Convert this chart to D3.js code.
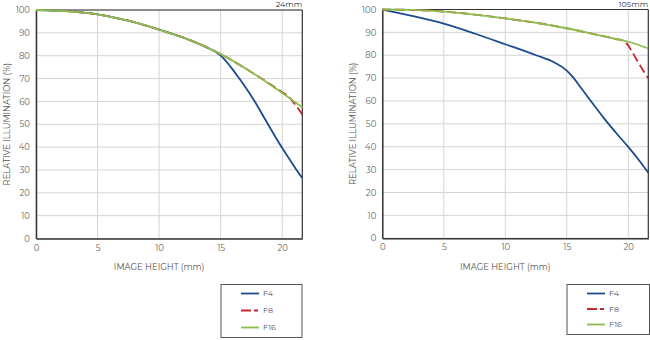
<!DOCTYPE html>
<html><head><meta charset="utf-8">
<script src="https://cdn.jsdelivr.net/npm/d3@7"></script>
<style>
html,body{margin:0;padding:0;background:#fff;}
svg{display:block;font-family:"Montserrat","Lato","Noto Sans",sans-serif;}
</style></head>
<body><svg id="chart" width="650" height="340"></svg>
<script>
// ---- data ----
const xTicks = [0, 5, 10, 15, 20];
const yTicks = [0, 10, 20, 30, 40, 50, 60, 70, 80, 90, 100];
const seriesNames = ["F4", "F8", "F16"];
const panelTitles = ["24mm", "105mm"];

// 24mm
const f4_24_x  = [0, 2.5, 5, 7.5, 10, 12.5, 14, 14.5, 15, 15.5, 16, 16.5, 17, 17.5, 18, 18.5, 19, 19.5, 20, 20.5, 21, 21.63];
const f4_24_y  = [100, 99.5, 98.1, 95.3, 91.4, 86.8, 83.3, 82.0, 80.0, 77.2, 73.8, 70.1, 66.3, 62.3, 57.9, 53.2, 48.6, 44.0, 39.6, 35.4, 31.3, 26.4];
const f8_24_x  = [0, 2.5, 5, 7.5, 10, 12.5, 15, 17.5, 19, 20, 20.5, 21, 21.63];
const f8_24_y  = [100, 99.5, 98.1, 95.3, 91.4, 86.8, 80.7, 72.8, 67.6, 64.0, 62.2, 59.0, 54.3];
const f16_24_x = [0, 2.5, 5, 7.5, 10, 12.5, 15, 17.5, 19, 20, 21.63];
const f16_24_y = [100, 99.5, 98.1, 95.3, 91.4, 86.8, 80.7, 72.8, 67.4, 63.7, 57.4];

// 105mm
const f4_105_x  = [0, 2.5, 5, 7.5, 10, 12.5, 14, 15, 15.5, 16, 17, 18, 19, 20, 21, 21.63];
const f4_105_y  = [100, 97.1, 93.8, 89.5, 84.8, 80.0, 76.8, 73.3, 70.4, 66.9, 59.7, 52.6, 46.1, 39.9, 33.2, 28.6];
const f8_105_x  = [0, 2.5, 5, 7.5, 10, 12.5, 15, 17.5, 19, 19.6, 20, 20.3, 20.7, 21.1, 21.63];
const f8_105_y  = [100, 99.8, 99.1, 97.8, 96.1, 94.2, 91.8, 88.9, 87.1, 86.3, 84.3, 81.6, 77.9, 74.3, 69.9];
const f16_105_x = [0, 2.5, 5, 7.5, 10, 12.5, 15, 17.5, 19, 20, 21.63];
const f16_105_y = [100, 99.8, 99.1, 97.8, 96.1, 94.2, 91.8, 88.9, 87.1, 85.9, 83.0];

const xMax = 21.63;

// ---- styles ----
const colors = {F4: "#1d4b8f", F8: "#c1272d", F16: "#8cbf4d"};
const dashes = {F4: null, F8: "9,4", F16: null};

const svg = d3.select("#chart");

const panels = [
  {title: panelTitles[0], left: 36, right: 302.3, top: 10, bottom: 238.5,
   ylabX: 7, legend: {x: 221, y: 284.5, w: 81, h: 53},
   series: [
     {name: "F4", x: f4_24_x, y: f4_24_y},
     {name: "F8", x: f8_24_x, y: f8_24_y},
     {name: "F16", x: f16_24_x, y: f16_24_y}
   ]},
  {title: panelTitles[1], left: 382.3, right: 648.3, top: 9.5, bottom: 238.2,
   ylabX: 353, legend: {x: 567, y: 284.5, w: 82.5, h: 50},
   series: [
     {name: "F4", x: f4_105_x, y: f4_105_y},
     {name: "F8", x: f8_105_x, y: f8_105_y},
     {name: "F16", x: f16_105_x, y: f16_105_y}
   ]}
];

panels.forEach(p => {
  const x = d3.scaleLinear().domain([0, xMax]).range([p.left, p.right]);
  const y = d3.scaleLinear().domain([0, 100]).range([p.bottom, p.top]);
  const g = svg.append("g");

  // grid
  g.selectAll(".hg").data(yTicks).join("line")
    .attr("x1", p.left).attr("x2", p.right)
    .attr("y1", d => y(d)).attr("y2", d => y(d))
    .attr("stroke", "#d4d4d4").attr("stroke-width", 1);
  g.selectAll(".vg").data(xTicks).join("line")
    .attr("y1", p.top).attr("y2", p.bottom)
    .attr("x1", d => x(d)).attr("x2", d => x(d))
    .attr("stroke", "#d4d4d4").attr("stroke-width", 1);

  // frame: top & right borders
  g.append("line").attr("x1", p.left).attr("x2", p.right).attr("y1", p.top).attr("y2", p.top)
    .attr("stroke", "#333").attr("stroke-width", 1.2);
  g.append("line").attr("x1", p.right).attr("x2", p.right).attr("y1", p.top).attr("y2", p.bottom)
    .attr("stroke", "#333").attr("stroke-width", 1.2);

  // axes
  const xa = g.append("g").attr("transform", `translate(0,${p.bottom})`)
    .call(d3.axisBottom(x).tickValues(xTicks).tickSize(0).tickPadding(6).tickFormat(d3.format("d")));
  const ya = g.append("g").attr("transform", `translate(${p.left},0)`)
    .call(d3.axisLeft(y).tickValues(yTicks).tickSize(0).tickPadding(6).tickFormat(d3.format("d")));
  [xa, ya].forEach(a => {
    a.select(".domain").attr("stroke", "#333").attr("stroke-width", 1.5);
    a.selectAll("text").attr("fill", "#666").style("font-size", "8.5px")
      .style("font-family", '"Montserrat","Lato","Noto Sans",sans-serif');
  });

  // lines
  const line = d3.line().curve(d3.curveMonotoneX)
    .x(d => x(d[0])).y(d => y(d[1]));
  p.series.forEach(s => {
    const pts = s.x.map((v, i) => [v, s.y[i]]);
    g.append("path").datum(pts).attr("d", line)
      .attr("fill", "none").attr("stroke", colors[s.name])
      .attr("stroke-width", 1.8)
      .attr("stroke-dasharray", dashes[s.name]);
  });

  // title
  g.append("text").attr("x", p.right).attr("y", 6.5).attr("text-anchor", "end")
    .attr("fill", "#333").style("font-size", "8px").text(p.title);

  // axis labels
  g.append("text").attr("x", (p.left + p.right) / 2 - 10).attr("y", 270)
    .attr("text-anchor", "middle").attr("fill", "#555").style("font-size", "8.5px")
    .text("IMAGE HEIGHT (mm)");
  g.append("text").attr("transform", `translate(${p.ylabX + 3},${(p.top + p.bottom) / 2}) rotate(-90)`)
    .attr("text-anchor", "middle").attr("fill", "#555").style("font-size", "8.5px")
    .text("RELATIVE ILLUMINATION (%)");

  // legend
  const L = p.legend;
  const lg = g.append("g");
  lg.append("rect").attr("x", L.x).attr("y", L.y).attr("width", L.w).attr("height", L.h)
    .attr("fill", "#fff").attr("stroke", "#555").attr("stroke-width", 1);
  const rowY = d3.scalePoint().domain(seriesNames).range([L.y + 9, L.y + L.h - 10]);
  seriesNames.forEach(n => {
    const yy = rowY(n);
    lg.append("line").attr("x1", L.x + 20).attr("x2", L.x + 38).attr("y1", yy).attr("y2", yy)
      .attr("stroke", colors[n]).attr("stroke-width", 1.8)
      .attr("stroke-dasharray", n === "F8" ? "10,3,4,10" : null);
    lg.append("text").attr("x", L.x + 42).attr("y", yy).attr("dy", "0.35em")
      .attr("fill", "#555").style("font-size", "8px").text(n);
  });
});
</script>
</body></html>
